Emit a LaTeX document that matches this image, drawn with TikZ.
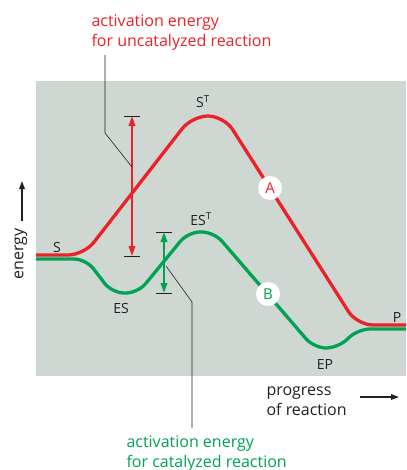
\documentclass[tikz,border=0pt]{standalone}
\usepackage{fontspec}
\setmainfont{Open Sans}
\usetikzlibrary{arrows.meta,positioning}
\definecolor{curvered}{RGB}{236,32,41}
\definecolor{curvegreen}{RGB}{0,163,80}
\definecolor{panelgray}{RGB}{206,215,210}
\definecolor{labelgray}{RGB}{35,31,32}

\begin{document}
\begin{tikzpicture}[x=1pt, y=-1pt,
    curve/.style={line width=3.3pt, rounded corners=16pt},
    bar/.style={line width=0.9pt, labelgray},
    leader/.style={line width=0.6pt, labelgray},
    gap/.style={line width=2pt, {Triangle[length=10pt,width=6.5pt]}-{Triangle[length=10pt,width=6.5pt]}},
    axisarrow/.style={line width=1.6pt, labelgray, -{Triangle[length=8pt,width=5.5pt]}},
    state/.style={anchor=base, text=labelgray, font=\fontsize{14}{16}\selectfont},
    tag/.style={circle, fill=white, inner sep=0pt, minimum size=24pt, font=\fontsize{15}{16}\selectfont},
    note/.style={anchor=base west, align=left, font=\fontsize{16}{20}\selectfont}]
    \useasboundingbox (0,0) rectangle (406,470);
    \fill[panelgray] (36,81) rectangle (406,376);

    % energy curves
    \draw[curve, curvegreen, rounded corners=12pt] (36,259) -- (86,259) -- (112,293) -- (138,293) -- (188,232) -- (214,232)
        -- (314,348) -- (338,348) -- (358,329) -- (406,329);
    \draw[curve, curvered] (36,255) -- (84,255) -- (192,116) -- (224,116) -- (357,325) -- (406,325);
    \node[tag, text=curvered] (tagA) at (270,188) {A};
    \node[tag, text=curvegreen] (tagB) at (268,294) {B};

    % states
    \node[state] (subs) at (57,252) {S};
    \node[state] (subsT) at (203,108) {S\textsuperscript{T}};
    \node[state] (enzsubs) at (121,313) {ES};
    \node[state] (enzsubsT) at (201,225) {ES\textsuperscript{T}};
    \node[state] (enzprod) at (325,369) {EP};
    \node[state] (prod) at (397,322) {P};

    % activation energy gaps
    \coordinate (redtop) at (132,116);
    \coordinate (redbot) at (132,256);
    \coordinate (greentop) at (164,232);
    \coordinate (greenbot) at (164,293);
    \draw[bar] ([xshift=-8pt]redtop) -- ([xshift=8pt]redtop);
    \draw[bar] ([xshift=-8pt]redbot) -- ([xshift=8pt]redbot);
    \draw[bar] ([xshift=-8pt]greentop) -- ([xshift=8pt]greentop);
    \draw[bar] ([xshift=-8pt]greenbot) -- ([xshift=8pt]greenbot);
    \draw[gap, curvered] (redtop) -- (redbot);
    \draw[gap, curvegreen] (greentop) -- (greenbot);

    % notes and leaders (base = last line)
    \node[note, text=curvered] (rednote) at (88,47) {activation energy\\for uncatalyzed reaction};
    \node[note, text=curvegreen] (greennote) at (123,467) {activation energy\\for catalyzed reaction};
    \coordinate (redlead) at (105,55);
    \coordinate (redhit) at (132,167);
    \coordinate (greenlead) at (192,428);
    \coordinate (greenhit) at (166,266);
    \draw[leader] (redlead) -- (105,133) -- (redhit);
    \draw[leader] (greenlead) -- (192,302) -- (greenhit);

    % axes
    \node[rotate=90, text=labelgray, font=\fontsize{16}{20}\selectfont] (energy) at (21,254) {energy};
    \coordinate (energytip) at (22,181);
    \draw[axisarrow] ([xshift=1pt]energy.east) ++(0,-4) -- (energytip);
    \node[note, text=labelgray] (progress) at (263,415) {progress\\of reaction};
    \coordinate (progresstip) at (399,397);
    \draw[axisarrow] (360,397) -- (progresstip);
\end{tikzpicture}
\end{document}
